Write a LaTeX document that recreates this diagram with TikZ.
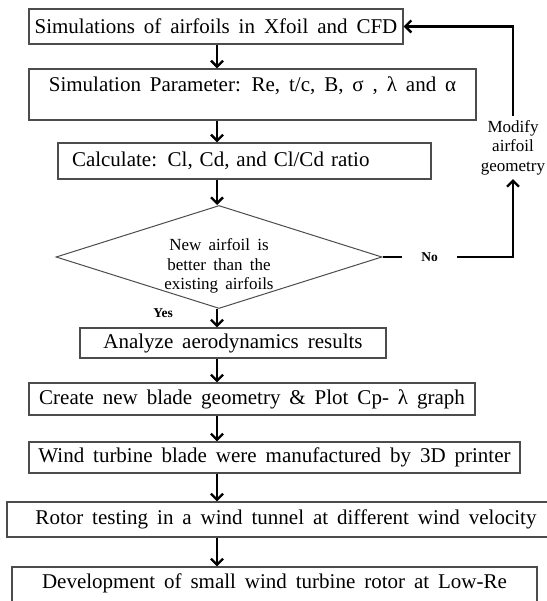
\documentclass[tikz,border=0pt]{standalone}
\usepackage{fontspec}
\setmainfont{Liberation Serif}[WordSpace=1.7]
\usetikzlibrary{shapes.geometric,arrows.meta}
\begin{document}
\begin{tikzpicture}[x=1pt, y=1pt,
	box/.style={draw=black!70, line width=1.2pt, inner sep=0pt, font=\fontsize{21}{25}\selectfont},
	arr/.style={line width=2.4pt, -{Straight Barb[length=6pt,width=12pt]}},
	small/.style={font=\fontsize{17}{19.5}\selectfont, align=center, inner xsep=1pt, inner ysep=4pt},
	tag/.style={font=\bfseries\fontsize{13.5}{15}\selectfont, inner sep=0pt}]
	\useasboundingbox (0,0) rectangle (546,-601);
	\coordinate (ax) at (217,0);
	% process boxes
	\node[box, minimum width=374pt, minimum height=35pt] (b1) at (216,-26.5) {Simulations of airfoils in Xfoil and CFD};
	\node[box, minimum width=447pt, minimum height=51pt, text depth=20pt] (b2) at (252.5,-94.5) {Simulation Parameter: Re, t/c, B, σ , λ and α};
	\node[box, text width=345pt, align=left, inner xsep=14pt, minimum height=36pt] (b3) at (244.5,-161) {Calculate: Cl, Cd, and Cl/Cd ratio};
	\node[draw=black!70, line width=1pt, diamond, minimum width=326pt, minimum height=103pt, inner sep=0pt] (d) at (219,-257) {};
	\node[font=\fontsize{17}{19.5}\selectfont, align=center] (dq) at (219,-266) {New airfoil is\\better than the\\existing airfoils};
	\node[box, minimum width=306pt, minimum height=30pt] (b4) at (233,-343) {Analyze aerodynamics results};
	\node[box, minimum width=446pt, minimum height=32pt] (b5) at (252,-399) {Create new blade geometry \& Plot Cp- λ graph};
	\node[box, minimum width=491pt, minimum height=31pt] (b6) at (274.5,-457.5) {Wind turbine blade were manufactured by 3D printer};
	\node[box, minimum width=558pt, minimum height=35pt] (b7) at (286,-519.5) {Rotor testing in a wind tunnel at different wind velocity};
	\node[box, minimum width=525pt, minimum height=53pt, text depth=24pt] (b8) at (274.5,-593.5) {Development of small wind turbine rotor at Low-Re};
	% labels
	\node[tag] (yes) at (163,-313) {Yes};
	\node[tag, minimum width=55pt] (no) at (429.5,-257) {No};
	\node[small] (mod) at (513,-147.5) {Modify\\airfoil\\geometry};
	% main flow
	\foreach \a/\b in {b1/b2, b2/b3, b3/d, d/b4, b4/b5, b5/b6, b6/b7, b7/b8}
		\draw[arr] (\a.south -| ax) -- (\b.north -| ax);
	% feedback loop
	\draw[line width=2.4pt] (d.east) -- (no.west);
	\draw[arr] (no.east) -| (mod.south);
	\draw[arr] (mod.north) |- (b1.east);
\end{tikzpicture}
\end{document}
